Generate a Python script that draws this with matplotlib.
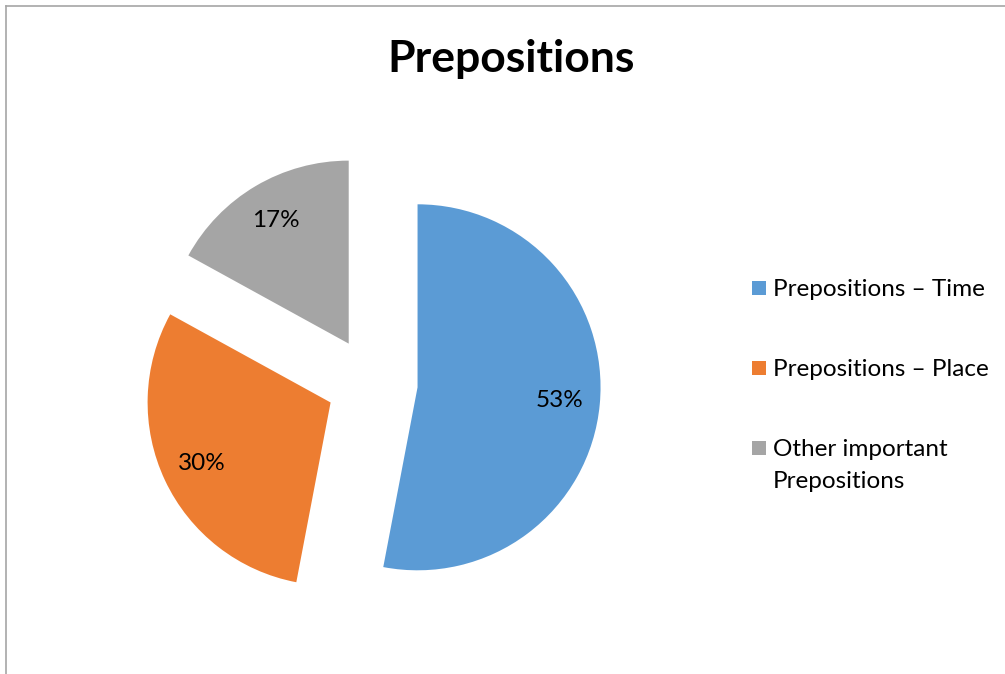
import matplotlib
matplotlib.use("Agg")
import matplotlib.pyplot as plt
from matplotlib.patches import Rectangle
from matplotlib.lines import Line2D

categories = ["Prepositions \u2013 Time", "Prepositions \u2013 Place", "Other important\nPrepositions"]
values = [53, 30, 17]
colors = ["#5B9BD5", "#ED7D31", "#A5A5A5"]
title = "Prepositions"

W, H = 1005, 674
plt.rcParams['font.family'] = ['Lato', 'DejaVu Sans']
fig = plt.figure(figsize=(W / 100, H / 100), dpi=100)

# pie axes: centre (372, 383) px from top-left, radius 183 px, limits +-1.5
r_px = 183
cx, cy = 372, H - 383
half = 1.5 * r_px
ax = fig.add_axes([(cx - half) / W, (cy - half) / H, 2 * half / W, 2 * half / H])
wedges, texts, autotexts = ax.pie(
    values, colors=colors, startangle=90, counterclock=False,
    explode=[0.25] * len(values), autopct='%1.0f%%', pctdistance=0.78,
    textprops=dict(fontsize=17.5, color='black'),
    wedgeprops=dict(linewidth=0))
ax.set_xlim(-1.5, 1.5)
ax.set_ylim(-1.5, 1.5)
ax.set_aspect('equal')
ax.axis('off')

fig.text(511 / W, 1 - 59 / H, title, ha='center', va='center',
         fontsize=32, fontweight='bold')

# legend (Excel style: marker aligned with first line)
entry_y = [288, 368, 448]
for lab, col, y in zip(categories, colors, entry_y):
    fig.patches.append(Rectangle(((752) / W, 1 - (y + 7) / H), 14 / W, 14 / H,
                                 transform=fig.transFigure, facecolor=col,
                                 edgecolor='none'))
    fig.text(773 / W, 1 - (y - 9) / H, lab, ha='left', va='top',
             fontsize=17.5, linespacing=1.65)

# chart border (top and left visible)
fig.add_artist(Line2D([5.5 / W, 1], [1 - 5.5 / H, 1 - 5.5 / H], transform=fig.transFigure,
                      color='#A6A6A6', linewidth=1.2))
fig.add_artist(Line2D([5.5 / W, 5.5 / W], [0, 1 - 5.5 / H], transform=fig.transFigure,
                      color='#A6A6A6', linewidth=1.2))

fig.savefig("out.png", dpi=100)
